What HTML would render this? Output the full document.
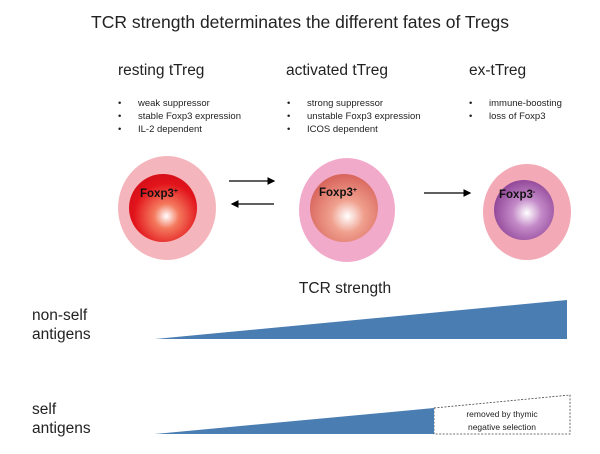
<!DOCTYPE html>
<html><head><style>body{margin:0;background:#fff}svg{display:block}text{font-family:"Liberation Sans",Arial,sans-serif}</style></head><body>
<svg width="600" height="454" viewBox="0 0 600 454" xmlns="http://www.w3.org/2000/svg">
<defs>
<radialGradient id="g1" cx="0.55" cy="0.62" r="0.6"><stop offset="0" stop-color="#fff"/><stop offset="0.3" stop-color="#f47a5e"/><stop offset="0.8" stop-color="#e2141b"/><stop offset="1" stop-color="#d8101a"/></radialGradient>
<radialGradient id="g2" cx="0.55" cy="0.62" r="0.6"><stop offset="0" stop-color="#fff"/><stop offset="0.4" stop-color="#f0a08e"/><stop offset="1" stop-color="#d9675e"/></radialGradient>
<radialGradient id="g3" cx="0.55" cy="0.55" r="0.6"><stop offset="0" stop-color="#fff"/><stop offset="0.4" stop-color="#c48ac8"/><stop offset="1" stop-color="#8b3f93"/></radialGradient>
<marker id="ar" markerWidth="6" markerHeight="6" refX="5" refY="3" orient="auto"><path d="M0,0 L6,3 L0,6 z" fill="#000"/></marker>
</defs>
<text x="300" y="28" font-size="17.5" text-anchor="middle" fill="#222">TCR strength determinates the different fates of Tregs</text>
<text x="118" y="75" font-size="15.5" fill="#222">resting tTreg</text>
<text x="286" y="75" font-size="15.5" fill="#222">activated tTreg</text>
<text x="469" y="75" font-size="15.5" fill="#222">ex-tTreg</text>
<g font-size="9.5" fill="#222">
<text x="118" y="106">•</text><text x="138" y="106">weak suppressor</text>
<text x="118" y="119">•</text><text x="138" y="119">stable Foxp3 expression</text>
<text x="118" y="132">•</text><text x="138" y="132">IL-2 dependent</text>
<text x="287" y="106">•</text><text x="307" y="106">strong suppressor</text>
<text x="287" y="119">•</text><text x="307" y="119">unstable Foxp3 expression</text>
<text x="287" y="132">•</text><text x="307" y="132">ICOS dependent</text>
<text x="469" y="106">•</text><text x="489" y="106">immune-boosting</text>
<text x="469" y="119">•</text><text x="489" y="119">loss of Foxp3</text>
</g>
<ellipse cx="167" cy="208" rx="49" ry="52" fill="#f4b6bc"/>
<circle cx="163" cy="208" r="34" fill="url(#g1)"/>
<text x="140" y="197" font-size="11.5" font-weight="bold" fill="#111">Foxp3<tspan font-size="7" dy="-4">+</tspan></text>
<ellipse cx="347" cy="210" rx="48" ry="52" fill="#f2aacb"/>
<circle cx="344" cy="208" r="34" fill="url(#g2)"/>
<text x="319" y="196" font-size="11.5" font-weight="bold" fill="#111">Foxp3<tspan font-size="7" dy="-4">+</tspan></text>
<ellipse cx="527" cy="212" rx="44" ry="48" fill="#f3a9b6"/>
<circle cx="524" cy="210" r="30" fill="url(#g3)"/>
<text x="499" y="198" font-size="11.5" font-weight="bold" fill="#111">Foxp3<tspan font-size="7" dy="-4">-</tspan></text>
<line x1="229" y1="181" x2="274" y2="181" stroke="#000" stroke-width="1.3" marker-end="url(#ar)"/>
<line x1="274" y1="204" x2="232" y2="204" stroke="#000" stroke-width="1.3" marker-end="url(#ar)"/>
<line x1="424" y1="193" x2="470" y2="193" stroke="#000" stroke-width="1.3" marker-end="url(#ar)"/>
<text x="345" y="293" font-size="15.5" text-anchor="middle" fill="#222">TCR strength</text>
<text x="32" y="320" font-size="15.5" fill="#222">non-self</text>
<text x="32" y="339" font-size="15.5" fill="#222">antigens</text>
<text x="32" y="414" font-size="15.5" fill="#222">self</text>
<text x="32" y="433" font-size="15.5" fill="#222">antigens</text>
<polygon points="155,339 567,300 567,339" fill="#4a7db2"/>
<polygon points="434,408 570,395 570,434 434,434" fill="#fff" stroke="#444" stroke-width="0.8" stroke-dasharray="2,1.5"/>
<polygon points="155,434 434,408 434,434" fill="#4a7db2"/>
<text x="502" y="417" font-size="8.5" text-anchor="middle" fill="#222">removed by thymic</text>
<text x="502" y="430" font-size="8.5" text-anchor="middle" fill="#222">negative selection</text>
</svg>
</body></html>
